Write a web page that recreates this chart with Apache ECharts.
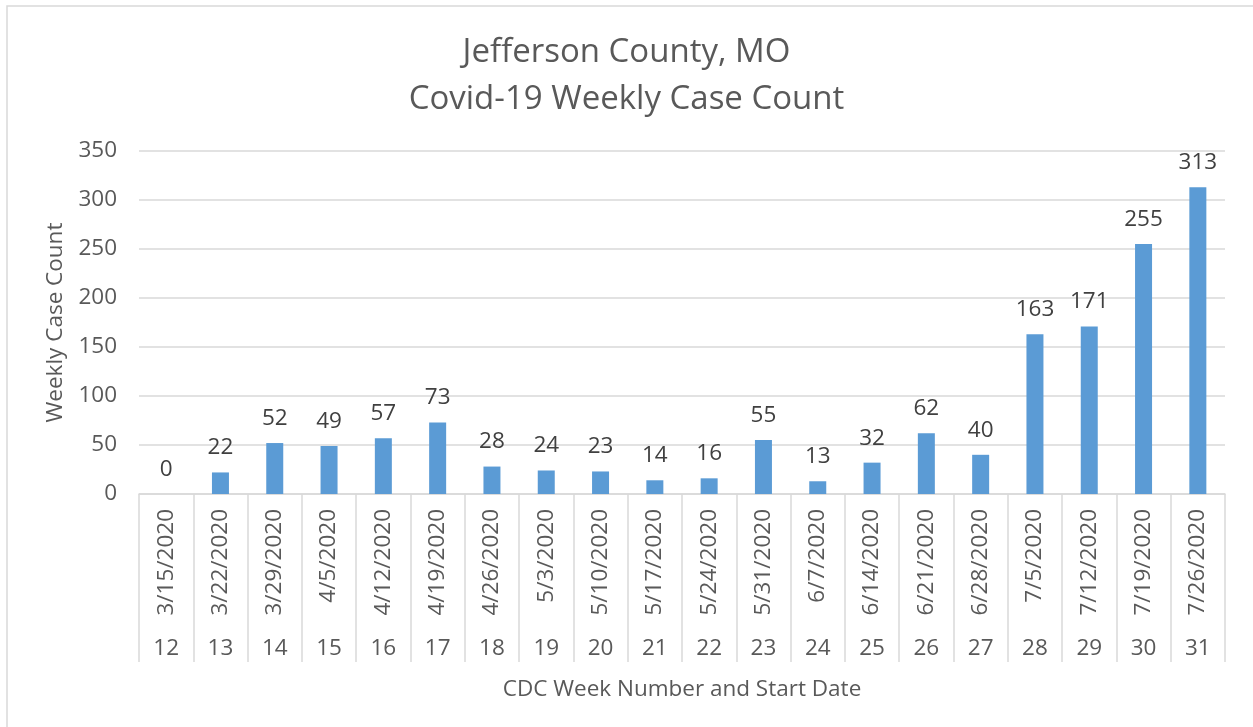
<!DOCTYPE html>
<html>
<head>
<meta charset="utf-8">
<script src="https://cdn.jsdelivr.net/npm/echarts@6/dist/echarts.min.js"></script>
<style>
  html, body { margin: 0; padding: 0; background: #fff; }
  #main { width: 1253px; height: 727px; }
</style>
</head>
<body>
<div id="main"></div>
<script>
var startDates = ['3/15/2020', '3/22/2020', '3/29/2020', '4/5/2020', '4/12/2020', '4/19/2020', '4/26/2020',
    '5/3/2020', '5/10/2020', '5/17/2020', '5/24/2020', '5/31/2020', '6/7/2020', '6/14/2020',
    '6/21/2020', '6/28/2020', '7/5/2020', '7/12/2020', '7/19/2020', '7/26/2020'];
var weekNumbers = ['12', '13', '14', '15', '16', '17', '18', '19', '20', '21', '22', '23', '24', '25',
    '26', '27', '28', '29', '30', '31'];
var caseCounts = [0, 22, 52, 49, 57, 73, 28, 24, 23, 14, 16, 55, 13, 32, 62, 40, 163, 171, 255, 313];
var yTicks = {min: 0, max: 350, interval: 50};

var FONT = '"Open Sans", "Liberation Sans", sans-serif';
var TEXT = '#595959';
var LINE = '#d9d9d9';
var FS = 22.5;

var myChart = echarts.init(document.getElementById('main'));

var option = {
    backgroundColor: '#fff',
    animation: false,
    title: {
        text: 'Jefferson County, MO\nCovid-19 Weekly Case Count',
        left: 'center',
        top: 24,
        textStyle: {
            fontFamily: FONT,
            fontSize: 33,
            fontWeight: 'normal',
            lineHeight: 47,
            color: TEXT
        }
    },
    graphic: [{
        type: 'rect',
        shape: {x: 7, y: 6, width: 1260, height: 740},
        style: {fill: 'none', stroke: LINE, lineWidth: 1.5},
        silent: true,
        z: -1
    }],
    grid: {left: 139, right: 28, top: 151, bottom: 233},
    xAxis: [{
        type: 'category',
        data: startDates,
        position: 'bottom',
        axisLine: {lineStyle: {color: LINE, width: 1.5}},
        axisTick: {show: true, interval: 0, length: 168, lineStyle: {color: LINE, width: 1.5}},
        axisLabel: {
            interval: 0,
            rotate: 90,
            margin: 15,
            fontFamily: FONT,
            fontSize: FS,
            color: TEXT
        }
    }, {
        type: 'category',
        data: weekNumbers,
        position: 'bottom',
        axisLine: {show: false},
        axisTick: {show: false},
        axisLabel: {
            interval: 0,
            margin: 143,
            fontFamily: FONT,
            fontSize: FS,
            color: TEXT
        },
        name: 'CDC Week Number and Start Date',
        nameLocation: 'middle',
        nameGap: 184,
        nameTextStyle: {fontFamily: FONT, fontSize: FS, color: TEXT}
    }],
    yAxis: {
        type: 'value',
        min: yTicks.min,
        max: yTicks.max,
        interval: yTicks.interval,
        axisLine: {show: false},
        axisTick: {show: false},
        splitLine: {lineStyle: {color: LINE, width: 1.5}},
        axisLabel: {margin: 22, fontFamily: FONT, fontSize: FS, color: TEXT},
        name: 'Weekly Case Count',
        nameLocation: 'middle',
        nameRotate: 90,
        nameGap: 70,
        nameTextStyle: {fontFamily: FONT, fontSize: FS, color: TEXT}
    },
    series: [{
        name: 'Weekly Case Count',
        type: 'bar',
        xAxisIndex: 0,
        data: caseCounts,
        barWidth: 17,
        itemStyle: {color: '#5B9BD5'},
        label: {
            show: true,
            position: 'top',
            distance: 13,
            fontFamily: FONT,
            fontSize: FS,
            color: '#404040'
        }
    }]
};

myChart.setOption(option);
</script>
</body>
</html>
